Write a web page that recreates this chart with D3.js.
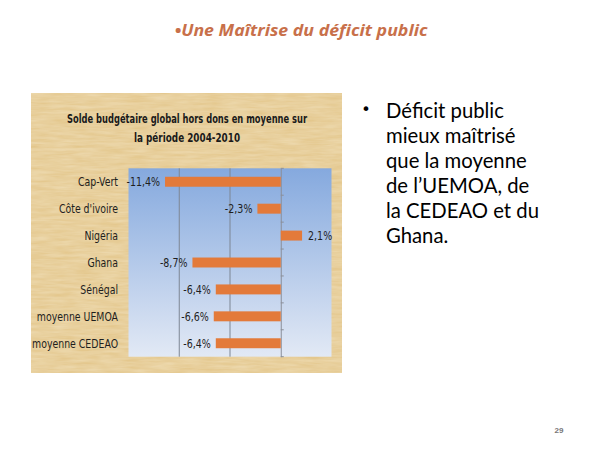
<!DOCTYPE html>
<html><head><meta charset="utf-8">
<script src="https://cdn.jsdelivr.net/npm/d3@7"></script>
<style>html,body{margin:0;padding:0;background:#fff;}svg{display:block;}</style>
</head><body>
<svg id="c" width="600" height="450"></svg>
<script>
const categories = ["Cap-Vert","Côte d'ivoire","Nigéria","Ghana","Sénégal","moyenne UEMOA","moyenne CEDEAO"];
const values = [-11.4,-2.3,2.1,-8.7,-6.4,-6.6,-6.4];
const valueLabels = ["-11,4%","-2,3%","2,1%","-8,7%","-6,4%","-6,6%","-6,4%"];
const gridValues = [-10,-5];
const chartTitle = ["Solde budgétaire global hors dons en moyenne sur","la période 2004-2010"];
const slideTitle = "•Une Maîtrise du déficit public";
const bulletLines = ["Déficit public","mieux maîtrisé","que la moyenne","de l’UEMOA, de","la CEDEAO et du","Ghana."];
const pageNumber = "29";

const svg = d3.select("#c");
const defs = svg.append("defs");
const grad = defs.append("linearGradient").attr("id","plotbg").attr("x1",0).attr("y1",0).attr("x2",0).attr("y2",1);
grad.append("stop").attr("offset","0%").attr("stop-color","#85a9de");
grad.append("stop").attr("offset","100%").attr("stop-color","#e2e9f5");
const f = defs.append("filter").attr("id","papyrus").attr("x",0).attr("y",0).attr("width","100%").attr("height","100%");
f.append("feTurbulence").attr("type","fractalNoise").attr("baseFrequency","0.04 0.35").attr("numOctaves",3).attr("seed",4).attr("result","n");
f.append("feColorMatrix").attr("in","n").attr("type","matrix")
  .attr("values","0 0 0 0 0.95  0 0 0 0 0.86  0 0 0 0 0.64  0 0 0 0.5 0").attr("result","c");
f.append("feComposite").attr("in","c").attr("in2","SourceGraphic").attr("operator","in").attr("result","t");
f.append("feMerge").selectAll("feMergeNode").data(["SourceGraphic","t"]).join("feMergeNode").attr("in",d=>d);

// slide title
svg.append("text").attr("x",301).attr("y",36).attr("text-anchor","middle")
  .attr("font-family","'Open Sans', 'Noto Sans', sans-serif").attr("font-weight","bold").attr("font-style","italic")
  .attr("font-size",16).attr("fill","#c8704a").attr("textLength",253).attr("lengthAdjust","spacingAndGlyphs")
  .text(slideTitle);

// chart panel
svg.append("rect").attr("x",31).attr("y",93).attr("width",311).attr("height",280).attr("fill","#e2c486").attr("filter","url(#papyrus)");

const x = d3.scaleLinear().domain([-15,5]).range([128.5,331.5]);
const y = d3.scaleBand().domain(categories).range([168.3,356.7]).paddingInner(0.63).paddingOuter(0.315);

svg.append("rect").attr("x",x(-15)).attr("y",168.3).attr("width",x(5)-x(-15)).attr("height",356.7-168.3).attr("fill","url(#plotbg)");

svg.append("g").selectAll("line").data(gridValues).join("line")
  .attr("x1",d=>x(d)).attr("x2",d=>x(d)).attr("y1",168.3).attr("y2",356.7)
  .attr("stroke","#7d8694").attr("stroke-width",1);

// zero axis with minor ticks
const axis = d3.axisRight(y).tickSize(0).tickFormat("");
const ag = svg.append("g").attr("transform",`translate(${x(0)},0)`).call(axis);
ag.select(".domain").attr("stroke","#8a8f99").attr("stroke-width",1);
const step = y.step();
svg.append("g").selectAll("line").data(d3.range(categories.length+1)).join("line")
  .attr("x1",x(0)).attr("x2",x(0)+3).attr("y1",k=>168.3+k*step).attr("y2",k=>168.3+k*step)
  .attr("stroke","#8a8f99");

// bars
svg.append("g").selectAll("rect").data(values).join("rect")
  .attr("x",(d)=>x(Math.min(0,d))).attr("width",d=>Math.abs(x(d)-x(0)))
  .attr("y",(d,i)=>y(categories[i])).attr("height",y.bandwidth())
  .attr("fill","#e37a3a");

const cond = "'DejaVu Sans', sans-serif";
const sx = 0.76;
// data labels (horizontally condensed)
svg.append("g").selectAll("text").data(values).join("text")
  .attr("transform",(d,i)=>`translate(${d<0 ? x(d)-5 : x(d)+6},${y(categories[i])+y.bandwidth()/2+4.5}) scale(${sx},1)`)
  .attr("text-anchor",d=> d<0 ? "end":"start")
  .attr("font-family",cond).attr("font-size",12.5).attr("fill","#1e1e1e")
  .text((d,i)=>valueLabels[i]);

// category labels
svg.append("g").selectAll("text").data(categories).join("text")
  .attr("transform",d=>`translate(118,${y(d)+y.bandwidth()/2+4.5}) scale(0.75,1)`).attr("text-anchor","end")
  .attr("font-family",cond).attr("font-size",12.5).attr("fill","#1e1e1e")
  .text(d=>d);

// chart title (horizontally condensed)
const titleScale = [0.642,0.68];
svg.append("g").selectAll("text").data(chartTitle).join("text")
  .attr("transform",(d,i)=>`translate(187,${123+i*19}) scale(${titleScale[i]},1)`).attr("text-anchor","middle")
  .attr("font-family",cond).attr("font-weight","bold").attr("font-size",13).attr("fill","#1a1a1a")
  .text(d=>d);

// bullet marker
svg.append("text").attr("x",366).attr("y",115).attr("text-anchor","middle")
  .attr("font-family","'DejaVu Sans', sans-serif").attr("font-size",16).attr("fill","#000").text("•");
// bullet text
svg.append("g").selectAll("text").data(bulletLines).join("text")
  .attr("x",386).attr("y",(d,i)=>118+i*25)
  .attr("font-family","Lato, 'Open Sans', sans-serif").attr("font-size",20.3).attr("fill","#000")
  .text(d=>d);

svg.append("text").attr("x",559).attr("y",433).attr("text-anchor","middle")
  .attr("font-family","'Liberation Sans', sans-serif").attr("font-weight","bold").attr("font-size",8).attr("fill","#777")
  .text(pageNumber);
</script>
</body></html>
